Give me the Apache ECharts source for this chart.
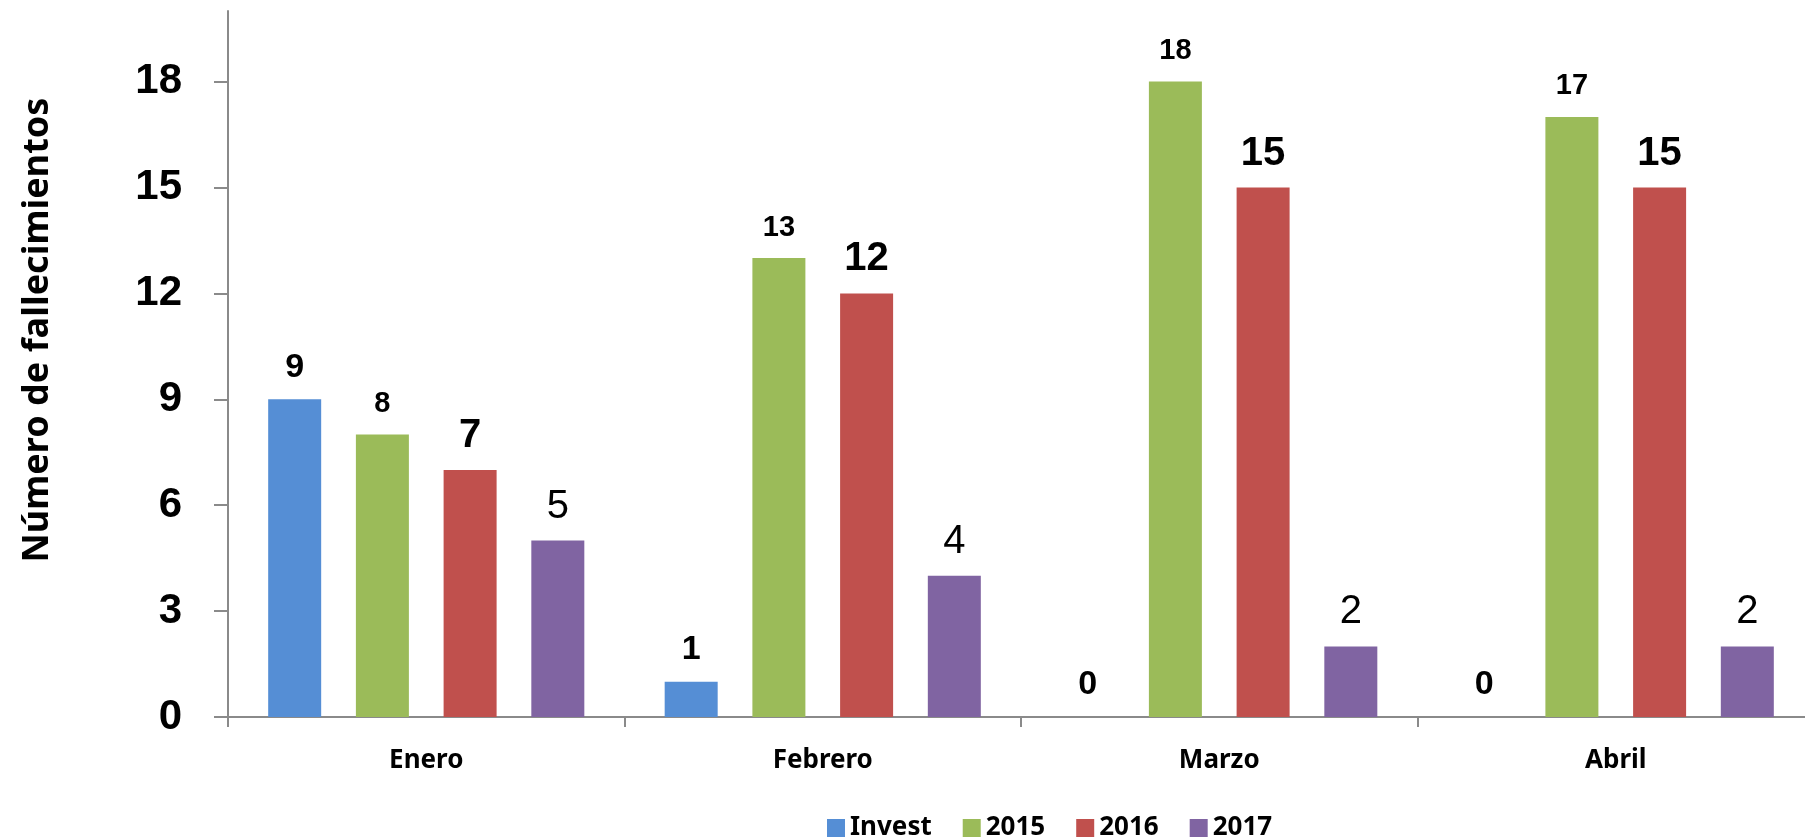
<!DOCTYPE html>
<html>
<head>
<meta charset="utf-8">
<script src="https://cdn.jsdelivr.net/npm/echarts@6/dist/echarts.min.js"></script>
<style>
  html, body { margin: 0; padding: 0; background: #fff; }
  #chart { width: 1805px; height: 837px; }
</style>
</head>
<body>
<div id="chart"></div>
<script>
// data
var categories = ['Enero', 'Febrero', 'Marzo', 'Abril'];
var invest = [9, 1, 0, 0];
var y2015 = [8, 13, 18, 17];
var y2016 = [7, 12, 15, 15];
var y2017 = [5, 4, 2, 2];
var yTicks = [0, 3, 6, 9, 12, 15, 18];
var yTitle = 'Número de fallecimientos';

var axisGray = '#8a8a8a';
var labelFont = 'Liberation Sans, Arial, sans-serif';
var calibriLike = '"Noto Sans", "Open Sans", sans-serif';

function barSeries(name, data, color, size, weight, dist) {
  return {
    name: name,
    type: 'bar',
    data: data,
    barWidth: 53,
    barGap: '65.5%',
    itemStyle: { color: color },
    label: {
      show: true,
      position: 'top',
      distance: dist,
      color: '#000',
      fontFamily: labelFont,
      fontSize: size,
      fontWeight: weight
    }
  };
}

var chart = echarts.init(document.getElementById('chart'));
chart.setOption({
  animation: false,
  backgroundColor: '#fff',
  grid: {
    left: 228,
    right: -9,
    top: 11,
    bottom: 120,
    containLabel: false,
    outerBoundsMode: 'none'
  },
  legend: {
    left: 822,
    top: 809,
    itemWidth: 18,
    itemHeight: 18,
    itemGap: 31,
    icon: 'rect',
    textStyle: {
      fontFamily: calibriLike,
      fontSize: 26,
      fontWeight: 'bold',
      color: '#000',
      lineHeight: 28
    },
    data: ['Invest', '2015', '2016', '2017']
  },
  graphic: [{
    type: 'text',
    x: 38,
    y: 330,
    rotation: Math.PI / 2,
    style: {
      text: yTitle,
      fontFamily: calibriLike,
      fontSize: 36,
      fontWeight: 'bold',
      fill: '#000',
      align: 'center',
      verticalAlign: 'middle'
    }
  }],
  xAxis: {
    type: 'category',
    data: categories,
    axisLine: { lineStyle: { color: axisGray, width: 2 } },
    axisTick: { show: true, length: 10, lineStyle: { color: axisGray, width: 2 } },
    axisLabel: {
      margin: 31,
      color: '#000',
      fontFamily: calibriLike,
      fontSize: 26,
      fontWeight: 'bold'
    },
    splitLine: { show: false }
  },
  yAxis: {
    type: 'value',
    min: 0,
    max: 20,
    interval: 3,
    axisLine: { show: true, lineStyle: { color: axisGray, width: 2 } },
    axisTick: { show: true, length: 14, customValues: yTicks, lineStyle: { color: axisGray, width: 2 } },
    axisLabel: {
      customValues: yTicks,
      margin: 46,
      color: '#000',
      fontFamily: labelFont,
      fontSize: 42,
      fontWeight: 'bold'
    },
    splitLine: { show: false }
  },
  series: [
    barSeries('Invest', invest, '#558ED5', 34, 'bold', 15),
    barSeries('2015', y2015, '#9BBB59', 29, 'bold', 16),
    barSeries('2016', y2016, '#C0504D', 40, 'bold', 14),
    barSeries('2017', y2017, '#8064A2', 40, 'normal', 14)
  ]
});
</script>
</body>
</html>
